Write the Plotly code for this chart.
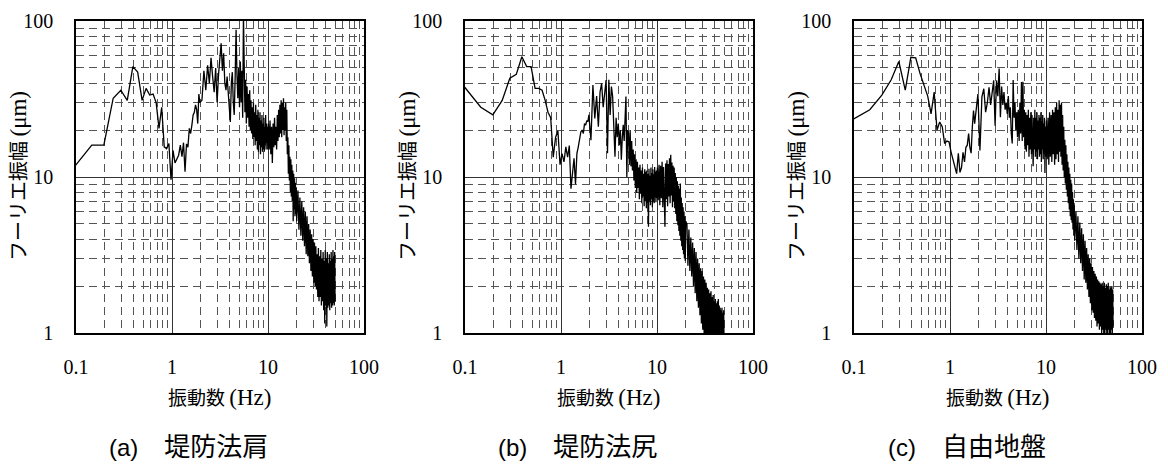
import plotly.graph_objects as go

# Frequency bins (Hz) shared by the three records
freq_low = [0.098, 0.146, 0.195, 0.244, 0.293, 0.342, 0.391, 0.439, 0.488, 0.537,
            0.586, 0.635, 0.684, 0.732, 0.781, 0.830, 0.879, 0.928, 0.977, 1.025,
            1.074, 1.123, 1.172, 1.221, 1.270, 1.318, 1.367, 1.416, 1.465, 1.514,
            1.563, 1.611, 1.660, 1.709, 1.758, 1.807, 1.855, 1.904, 1.953]
freq_2_5 = [2.05, 2.15, 2.25, 2.35, 2.45, 2.55, 2.65, 2.75, 2.85, 2.95,
            3.05, 3.15, 3.25, 3.35, 3.45, 3.55, 3.65, 3.75, 3.85, 3.95,
            4.05, 4.15, 4.25, 4.35, 4.45, 4.55, 4.65, 4.75, 4.85, 4.95]
freq_5_10 = [5.05, 5.15, 5.25, 5.35, 5.45, 5.55, 5.65, 5.75, 5.85, 5.95,
             6.05, 6.15, 6.25, 6.35, 6.45, 6.55, 6.65, 6.75, 6.85, 6.95,
             7.05, 7.15, 7.25, 7.35, 7.45, 7.55, 7.65, 7.75, 7.85, 7.95,
             8.05, 8.15, 8.25, 8.35, 8.45, 8.55, 8.65, 8.75, 8.85, 8.95,
             9.05, 9.15, 9.25, 9.35, 9.45, 9.55, 9.65, 9.75, 9.85, 9.95]
freq_10_20 = [10.1, 10.3, 10.5, 10.7, 10.9, 11.1, 11.3, 11.5, 11.7, 11.9,
              12.1, 12.3, 12.5, 12.7, 12.9, 13.1, 13.3, 13.5, 13.7, 13.9,
              14.1, 14.3, 14.5, 14.7, 14.9, 15.1, 15.3, 15.5, 15.7, 15.9,
              16.1, 16.3, 16.5, 16.7, 16.9, 17.1, 17.3, 17.5, 17.7, 17.9,
              18.1, 18.3, 18.5, 18.7, 18.9, 19.1, 19.3, 19.5, 19.7, 19.9]
freq_20_50 = [20.5, 21.0, 21.5, 22.0, 22.5, 23.0, 23.5, 24.0, 24.5, 25.0,
              25.5, 26.0, 26.5, 27.0, 27.5, 28.0, 28.5, 29.0, 29.5, 30.0,
              30.5, 31.0, 31.5, 32.0, 32.5, 33.0, 33.5, 34.0, 34.5, 35.0,
              35.5, 36.0, 36.5, 37.0, 37.5, 38.0, 38.5, 39.0, 39.5, 40.0,
              40.5, 41.0, 41.5, 42.0, 42.5, 43.0, 43.5, 44.0, 44.5, 45.0,
              45.5, 46.0, 46.5, 47.0, 47.5, 48.0, 48.5, 49.0, 49.5, 50.0]
freq_hz = freq_low + freq_2_5 + freq_5_10 + freq_10_20 + freq_20_50

# Fourier amplitude (um): (a) levee crown shoulder
amp_a = ([11.8, 16, 16, 32, 36, 31, 51, 47, 31, 37,
          33.5, 34, 30, 20.5, 28, 15.6, 15.2, 16.4, 9.6, 14.8,
          12.3, 13.0, 13.8, 16.0, 13.5, 16.6, 10.8, 16.3, 15.5, 20.5,
          19.0, 21.5, 25, 26, 29, 27, 22, 34, 30]
         + [31, 48, 36, 52, 40, 58, 44, 35, 50, 30,
            45, 62, 72, 48, 62, 40, 36, 44, 33, 27,
            22.5, 40, 47, 30, 25, 44, 88, 45, 32, 50]
         + [28, 55, 30, 48, 24, 110, 40, 26, 42, 22,
            38, 24, 34, 21, 36, 20, 31, 19, 28, 17.5,
            30, 18, 26, 16, 29, 17, 25, 15, 27, 14.5,
            24, 16, 26, 14, 23, 15.5, 25, 14.5, 22, 15,
            24, 14.5, 21, 16, 25, 15, 22, 16.5, 21, 15]
         + [22, 15, 23, 14, 21, 12.3, 22, 15.5, 24, 16,
            21, 15, 25, 17, 27, 18, 29, 19, 31, 18,
            30, 20, 32, 18.5, 28, 20, 30, 17, 27, 14,
            18, 10.5, 16, 9.5, 13.5, 8, 13, 7.5, 12, 7,
            11, 5.2, 10.5, 6.2, 9.8, 5.6, 9.2, 5.8, 8.6, 5.2]
         + [8.2, 4.6, 7.4, 4.2, 7.0, 3.9, 6.4, 3.6, 6.0, 3.2,
            5.6, 3.1, 5.0, 2.8, 4.6, 2.5, 4.3, 2.3, 4.0, 2.1,
            3.8, 2.0, 3.6, 1.9, 3.2, 1.7, 3.5, 1.6, 3.1, 1.7,
            3.4, 1.5, 3.0, 1.6, 3.3, 1.4, 2.9, 1.15, 3.4, 1.5,
            3.0, 1.1, 3.3, 1.45, 2.8, 1.5, 3.2, 1.4, 2.9, 1.55,
            3.3, 1.45, 3.0, 1.5, 3.4, 1.55, 3.1, 1.5, 3.3, 1.6])

# (b) levee toe
amp_b = ([38, 28, 25, 31, 43, 45.5, 59, 51, 51, 37,
          37, 36, 31, 26, 24, 13.4, 18, 19.8, 12, 14.1,
          12.5, 15.6, 13.4, 15.9, 8.4, 10.5, 13.2, 9.0, 14.2, 15.6,
          17.5, 19.5, 20, 19, 22, 21.5, 23, 22.6, 25]
         + [17.2, 38.8, 23.7, 33, 21, 35, 39.8, 28, 33, 41.8,
            14.2, 42, 25, 38, 32.8, 20, 13.5, 24, 18, 22,
            16, 20, 12.9, 18, 21.6, 17, 25, 32.8, 10, 20]
         + [19, 12, 20, 11.7, 17, 11, 15, 9.5, 14, 8.5,
            13, 7.9, 12.5, 8.5, 11.5, 7.2, 12, 7.8, 11, 6.8,
            11.5, 7.5, 10.5, 6.5, 11.2, 7.0, 10.8, 6.3, 11, 6.8,
            10.5, 4.8, 11.3, 7, 10.2, 6.6, 11.5, 7.2, 10.6, 6.4,
            11.2, 7.0, 10.4, 6.8, 11.6, 7.4, 10.8, 6.9, 11.0, 7.3]
         + [11.5, 7.1, 12, 6.6, 11.8, 7.3, 12.5, 6.4, 11.6, 6.9,
            4.8, 12.2, 7.2, 12.8, 6.5, 12.1, 7.5, 13.2, 6.8, 13.9,
            7.6, 12.4, 6.4, 11.8, 7.0, 11.5, 6.3, 10.6, 5.8, 10,
            5.2, 9.4, 4.9, 8.8, 4.5, 8.4, 4.2, 9.1, 3.9, 7.4,
            3.6, 6.8, 3.4, 6.4, 3.2, 6.0, 3.0, 5.6, 2.9, 5.2]
         + [5.0, 2.7, 4.6, 2.5, 4.1, 2.3, 3.8, 2.0, 3.5, 1.8,
            3.3, 1.6, 3.0, 1.45, 2.8, 1.3, 2.6, 1.15, 2.5, 1.05,
            2.3, 0.95, 2.2, 0.9, 2.1, 0.85, 1.95, 0.8, 1.9, 0.85,
            1.8, 0.8, 1.85, 0.75, 1.7, 0.8, 1.75, 0.75, 1.6, 0.8,
            1.65, 0.75, 1.55, 0.8, 1.6, 0.75, 1.65, 0.8, 1.5, 0.75,
            1.45, 0.8, 1.4, 0.75, 1.45, 0.8, 1.35, 0.8, 1.4, 0.8])

# (c) free field
amp_c = ([23.5, 27, 33.5, 42, 55, 36, 58.5, 58, 46, 38,
          33, 25.4, 35, 20, 22.5, 21, 16.4, 17, 16.8, 14.5,
          13.1, 11.9, 10.5, 14.2, 10.7, 11.5, 14.4, 12.5, 15.5, 16,
          19, 15.5, 14.2, 21, 26.7, 22, 25, 29, 34]
         + [14.8, 32.6, 36.8, 26, 30, 37.6, 29, 35, 41.6, 21.3,
            41.6, 33, 49.5, 24.2, 38, 29, 35, 27, 30, 25.4,
            33, 24, 28, 19, 16.4, 41.8, 24, 30, 20, 26]
         + [18, 27, 17, 30, 19, 40.6, 17, 40.8, 18, 27,
            15, 26, 14.5, 25, 16, 27, 13.5, 24, 15, 26,
            14, 25, 13, 11.7, 24, 15, 27, 13.5, 24, 14.5,
            26, 13, 23, 15, 25, 13.5, 24, 14, 26, 12.5,
            23, 15, 25, 13, 22, 14, 24, 10.6, 21, 13.5]
         + [23, 13, 24, 12, 26, 13.5, 25, 12.5, 27, 14,
            26, 12, 28, 13, 30, 14, 27, 12.5, 31, 14.5,
            29, 13.5, 30, 12, 25, 11, 21, 10, 17.3, 9.1,
            16, 8.3, 14, 7.5, 12.5, 6.8, 11.5, 6.2, 10.5, 5.6,
            9.6, 5.3, 9.1, 5.1, 8.0, 4.6, 7.2, 4.2, 6.6, 3.9]
         + [6.0, 3.4, 5.6, 3.0, 5.1, 2.8, 4.7, 2.5, 4.3, 2.2,
            3.9, 2.1, 3.5, 1.9, 3.2, 1.7, 3.0, 1.55, 2.8, 1.4,
            2.65, 1.35, 2.5, 1.25, 2.4, 1.2, 2.3, 1.1, 2.2, 1.15,
            2.15, 1.05, 2.1, 1.1, 2.05, 1.0, 2.1, 1.05, 2.0, 0.95,
            2.1, 1.0, 1.95, 1.05, 2.05, 0.95, 2.0, 1.0, 2.1, 1.05,
            1.9, 0.95, 2.0, 1.0, 1.95, 1.05, 2.0, 0.95, 1.9, 1.1])

caption_tags = ["(a)", "(b)", "(c)"]
caption_names = ["堤防法肩", "堤防法尻", "自由地盤"]
x_tick_vals = [0.1, 1, 10, 100]
x_tick_text = ["0.1", "1", "10", "100"]
y_tick_vals = [1, 10, 100]
y_tick_text = ["1", "10", "100"]

assert len(amp_a) == len(freq_hz) and len(amp_b) == len(freq_hz) and len(amp_c) == len(freq_hz)

W, H = 1168, 464
panel_left = [76, 465, 854]
panel_w = 288
plot_top, plot_bottom = 21, 333

x_minor = [0.2, 0.3, 0.4, 0.5, 0.6, 0.7, 0.8, 0.9,
           2, 3, 4, 5, 6, 7, 8, 9,
           20, 30, 40, 50, 60, 70, 80, 90]
y_minor = [2, 3, 4, 5, 6, 7, 8, 9, 20, 30, 40, 50, 60, 70, 80, 90]

serif = "Liberation Serif"
sans = "Liberation Sans"
gothic = "Noto Sans CJK JP"

fig = go.Figure()

for i, amp in enumerate([amp_a, amp_b, amp_c]):
    sfx = "" if i == 0 else str(i + 1)
    fig.add_trace(go.Scatter(
        x=freq_hz, y=amp, mode="lines",
        line=dict(color="black", width=1.3),
        xaxis="x" + sfx, yaxis="y" + sfx, showlegend=False,
    ))
    left = panel_left[i]
    common = dict(
        type="log", showgrid=True, gridcolor="#333333", gridwidth=1,
        showline=True, linecolor="black", linewidth=1.5, mirror=True,
        ticks="", zeroline=False, automargin=False,
        tickfont=dict(family=serif, size=20, color="black"),
    )
    fig.layout["xaxis" + sfx] = dict(
        common, range=[-1, 2], domain=[left / W, (left + panel_w) / W],
        anchor="y" + sfx, tickvals=x_tick_vals, ticktext=x_tick_text,
        ticklabelstandoff=15,
        minor=dict(tickvals=x_minor, showgrid=True, gridcolor="#555555",
                   gridwidth=1, griddash="8px,5px", ticks=""),
    )
    fig.layout["yaxis" + sfx] = dict(
        common, range=[0, 2], domain=[1 - plot_bottom / H, 1 - plot_top / H],
        anchor="x" + sfx, tickvals=y_tick_vals, ticktext=y_tick_text,
        ticklabelstandoff=17,
        minor=dict(tickvals=y_minor, showgrid=True, gridcolor="#555555",
                   gridwidth=1, griddash="8px,5px", ticks=""),
    )
    cx = left + panel_w / 2
    # axis titles
    fig.add_annotation(
        x=(cx - 1) / W, y=1 - 396 / H, xref="paper", yref="paper",
        text="振動数 <span style='font-family:%s;font-size:23px'>(Hz)</span>" % serif,
        showarrow=False, font=dict(family=gothic, size=19, color="black"),
        xanchor="center", yanchor="middle",
    )
    fig.add_annotation(
        x=(left - 59) / W, y=1 - 176 / H, xref="paper", yref="paper",
        text="フーリエ振幅 <span style='font-family:%s;font-size:23px'>(μm)</span>" % serif,
        showarrow=False, textangle=-90,
        font=dict(family=gothic, size=20, color="black"),
        xanchor="center", yanchor="middle",
    )
    # panel caption
    fig.add_annotation(
        x=(cx - 31.5) / W, y=1 - 444 / H, xref="paper", yref="paper",
        text="<span style='font-family:%s;font-size:24px'>%s</span>\u3000%s"
             % (sans, caption_tags[i], caption_names[i]),
        showarrow=False,
        font=dict(family=gothic, size=26, color="black"),
        xanchor="center", yanchor="middle",
    )

fig.update_layout(
    width=W, height=H,
    margin=dict(l=0, r=0, t=0, b=0, autoexpand=False),
    paper_bgcolor="white", plot_bgcolor="white",
)

fig.write_html("out.html")
